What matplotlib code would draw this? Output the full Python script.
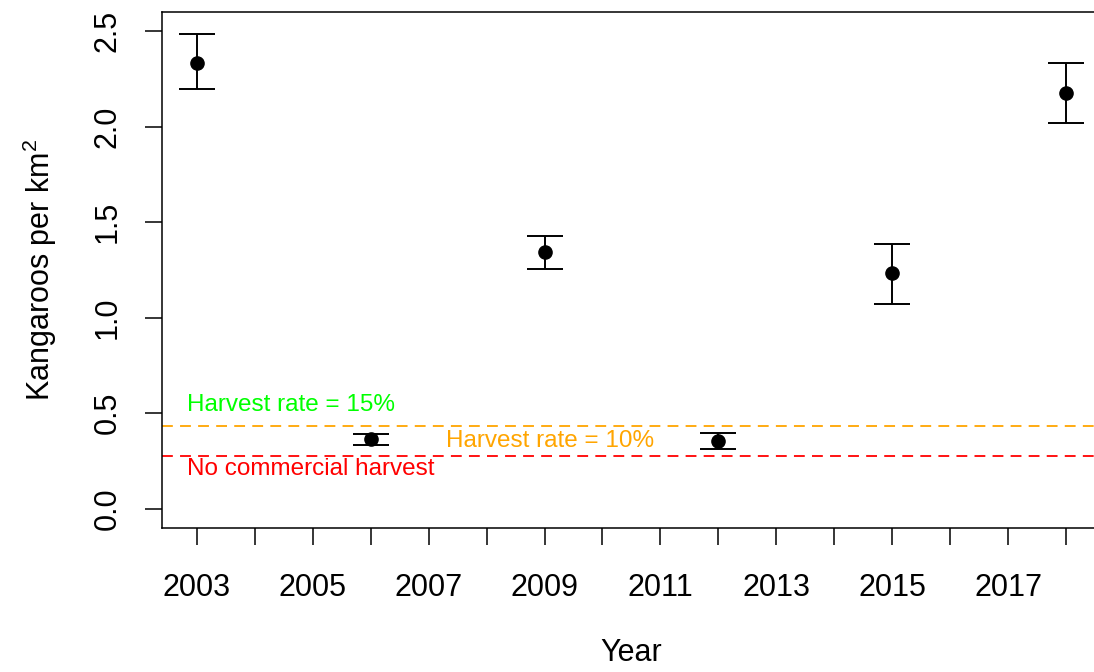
import matplotlib
matplotlib.use("Agg")
import matplotlib.pyplot as plt
import numpy as np

plt.rcParams['font.family'] = ['Liberation Sans', 'DejaVu Sans']
plt.rcParams['mathtext.fontset'] = 'custom'
plt.rcParams['mathtext.rm'] = 'Liberation Sans'
plt.rcParams['mathtext.it'] = 'Liberation Sans'

# survey years and density estimates
years = [2003, 2006, 2009, 2012, 2015, 2018]
density = [2.335, 0.367, 1.342, 0.356, 1.232, 2.175]
lower = [2.196, 0.335, 1.253, 0.314, 1.074, 2.018]
upper = [2.484, 0.393, 1.426, 0.398, 1.384, 2.332]

# threshold lines
harvest_15 = 0.435
no_harvest = 0.278

tick_years = list(range(2003, 2019))
tick_labels = [str(y) if (y - 2003) % 2 == 0 else '' for y in tick_years]
y_ticks = [0.0, 0.5, 1.0, 1.5, 2.0, 2.5]

fig = plt.figure(figsize=(10.94, 6.72), dpi=100)
ax = fig.add_axes([0.148, 0.2143, 0.8584, 0.768])

yerr = [np.array(density) - np.array(lower), np.array(upper) - np.array(density)]
ax.errorbar(years, density, yerr=yerr, fmt='o', color='black', markersize=9.5,
            capsize=13.3, elinewidth=1.4, capthick=1.4, zorder=3)

ax.axhline(harvest_15, color='#FFA500', linestyle=(0, (6, 4)), linewidth=1.3)
ax.axhline(no_harvest, color='#FF0000', linestyle=(0, (6, 4)), linewidth=1.3)

ax.text(2002.83, 0.545, 'Harvest rate = 15%', color='#00FF00', fontsize=17.5,
        ha='left', va='center')
ax.text(2007.3, 0.356, 'Harvest rate = 10%', color='#FFA500', fontsize=17.5,
        ha='left', va='center')
ax.text(2002.83, 0.21, 'No commercial harvest', color='#FF0000', fontsize=17.5,
        ha='left', va='center')

ax.set_xlim(2002.4, 2018.6)
ax.set_ylim(-0.1, 2.6)

ax.set_xticks(tick_years)
ax.set_xticklabels(tick_labels)
ax.set_yticks(y_ticks)
ax.set_yticklabels(['0.0', '0.5', '1.0', '1.5', '2.0', '2.5'], rotation=90, va='center')
ax.tick_params(axis='x', length=12.5, width=1.1, pad=20, labelsize=22)
ax.tick_params(axis='y', length=12.5, width=1.1, pad=16, labelsize=22)

for s in ax.spines.values():
    s.set_linewidth(1.1)

ax.set_xlabel('Year', fontsize=22, labelpad=25)
ax.set_ylabel(r'Kangaroos per km$^{\mathregular{2}}$', fontsize=22, labelpad=24)

fig.savefig('out.png', dpi=100)
